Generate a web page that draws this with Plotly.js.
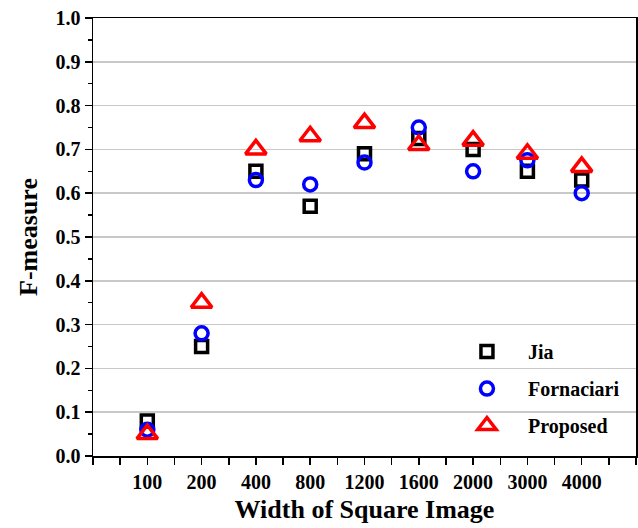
<!DOCTYPE html>
<html>
<head>
<meta charset="utf-8">
<script src="https://cdn.plot.ly/plotly-3.0.1.min.js"></script>
<style>html,body{margin:0;padding:0;background:#fff;}#chart{width:638px;height:528px;}</style>
</head>
<body>
<div id="chart"></div>
<script>
const categories = ["100", "200", "400", "800", "1200", "1600", "2000", "3000", "4000"];
const jia = [0.08, 0.25, 0.65, 0.57, 0.69, 0.725, 0.70, 0.65, 0.63];
const fornaciari = [0.06, 0.28, 0.63, 0.62, 0.67, 0.75, 0.65, 0.675, 0.60];
const proposed = [0.05, 0.35, 0.70, 0.73, 0.76, 0.71, 0.72, 0.69, 0.66];
const seriesNames = ["Jia", "Fornaciari", "Proposed"];
const yTicks = [0, 0.1, 0.2, 0.3, 0.4, 0.5, 0.6, 0.7, 0.8, 0.9, 1.0];

const xIdx = categories.map((_, i) => i);
const FONT = "Liberation Serif, Times New Roman, serif";

const mk = (name, y, symbol, color, size) => ({
  type: "scatter", mode: "markers", name: name, x: xIdx, y: y,
  legendgroup: name,
  marker: {symbol: symbol, size: size, color: color, line: {color: color, width: 3.5}},
  cliponaxis: false
});

const data = [
  mk(seriesNames[0], jia, "square-open", "#000000", 12),
  mk(seriesNames[1], fornaciari, "circle-open", "#0000ff", 13),
  mk(seriesNames[2], proposed, "triangle-up-open", "#ff0000", 18)
];

const layout = {
  width: 638, height: 528,
  margin: {l: 93, r: 2, t: 18, b: 72},
  paper_bgcolor: "#ffffff", plot_bgcolor: "#ffffff",
  font: {family: FONT, color: "#000", weight: "bold"},
  showlegend: true,
  legend: {x: 0.65, y: 0.283, xanchor: "left", yanchor: "top", bgcolor: "rgba(0,0,0,0)",
    font: {family: FONT, size: 20, color: "#000", weight: "bold"}, tracegroupgap: 8, itemwidth: 72},
  xaxis: {
    range: [-1, 9], tickmode: "array", tickvals: xIdx, ticktext: categories,
    showgrid: false, zeroline: false,
    showline: true, linecolor: "#000", linewidth: 1.5, mirror: true,
    ticks: "outside", ticklen: 7, tickwidth: 1.5, tickcolor: "#000",
    minor: {tickvals: [-1, -0.5, 0.5, 1.5, 2.5, 3.5, 4.5, 5.5, 6.5, 7.5, 8.5, 9], ticks: "outside", ticklen: 7, tickwidth: 1.5, tickcolor: "#000", showgrid: false},
    tickfont: {family: FONT, size: 20, color: "#000", weight: "bold"},
    title: {text: "Width of Square Image", font: {family: FONT, size: 26, color: "#000", weight: "bold"}, standoff: 8}
  },
  yaxis: {
    range: [0, 1.0], tickmode: "array", tickvals: yTicks, ticktext: yTicks.map(v => v.toFixed(1)),
    showgrid: true, gridcolor: "#c8c8c8", gridwidth: 1.5, zeroline: false,
    showline: true, linecolor: "#000", linewidth: 1.5, mirror: true,
    ticks: "outside", ticklen: 7, tickwidth: 1.5, tickcolor: "#000",
    minor: {dtick: 0.05, tick0: 0, ticks: "outside", ticklen: 4, tickwidth: 1.5, tickcolor: "#000", showgrid: false},
    tickfont: {family: FONT, size: 20, color: "#000", weight: "bold"},
    title: {text: "F-measure", font: {family: FONT, size: 26, color: "#000", weight: "bold"}, standoff: 10}
  }
};

Plotly.newPlot("chart", data, layout, {displayModeBar: false, staticPlot: true});
</script>
</body>
</html>
